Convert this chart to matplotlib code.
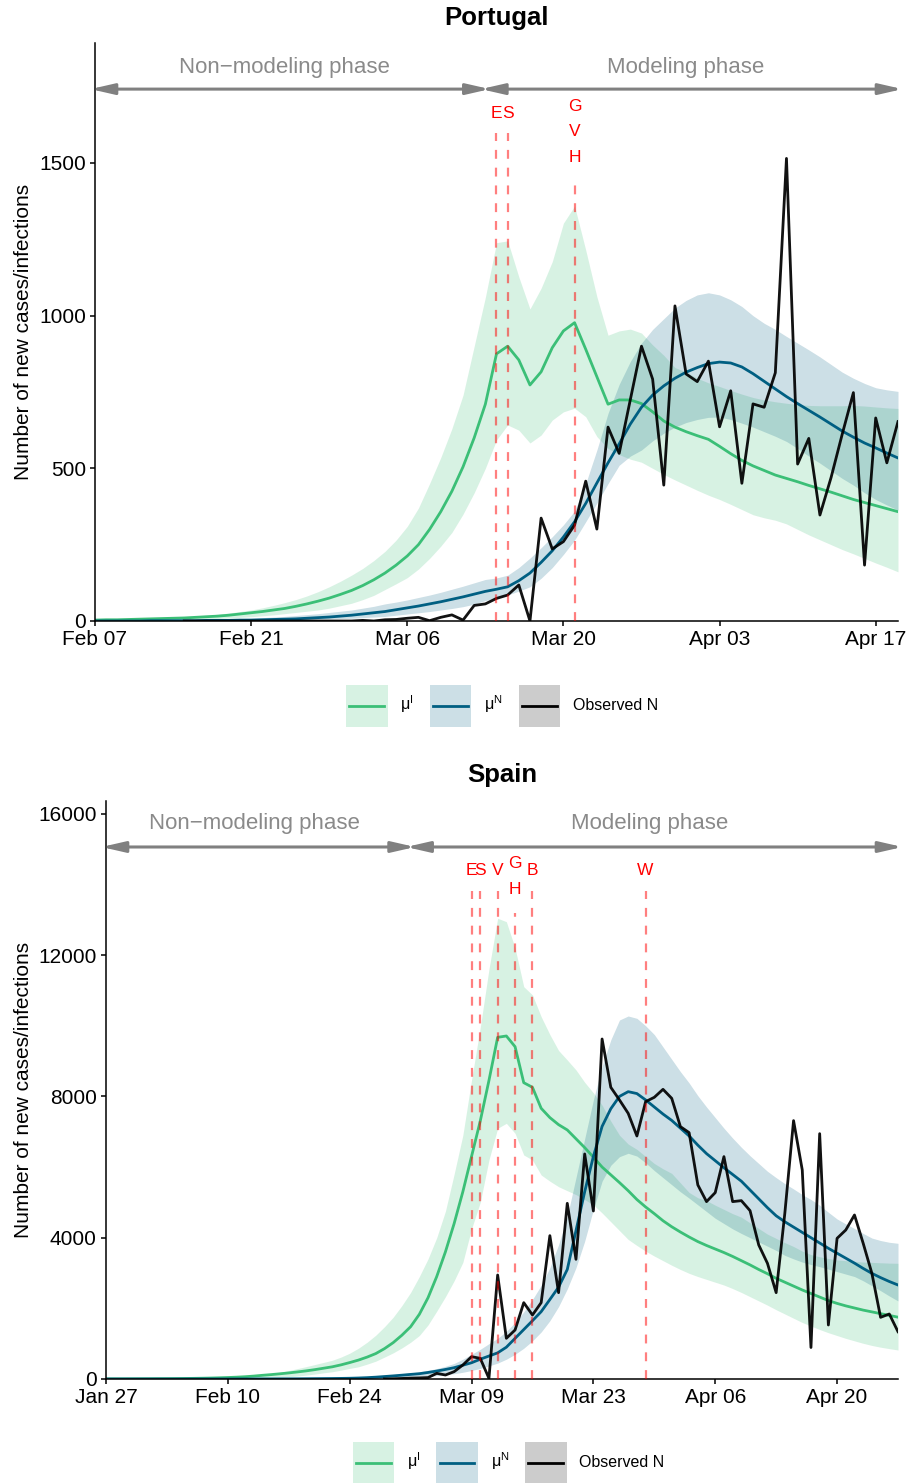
import numpy as np
import pandas as pd
import matplotlib
matplotlib.use("Agg")
import matplotlib.pyplot as plt
import matplotlib.dates as mdates
from matplotlib.patches import Rectangle
from matplotlib.lines import Line2D
from matplotlib.legend_handler import HandlerBase

plt.rcParams['font.family'] = ['Liberation Sans', 'DejaVu Sans']
plt.rcParams['mathtext.fontset'] = 'custom'
plt.rcParams['mathtext.rm'] = 'Liberation Sans'

nan = np.nan

# ---------------- Portugal ----------------
pt_start = '2020-02-07'
pt_mu_i = [3, 4, 4, 5, 6, 7, 8, 9, 10, 12, 14, 16, 19, 23, 27, 31, 36, 41, 48, 56,
           65, 75, 87, 100, 116, 135, 157, 183, 213, 250, 300, 358, 425, 505, 600, 710,
           875, 900, 855, 773, 816, 895, 950, 977, 890, 800, 710, 724, 724, 712, 685,
           655, 635, 620, 607, 595, 572, 548, 526, 508, 493, 478, 467, 456, 444, 433,
           422, 410, 398, 388, 378, 368, 358]
pt_mu_i_hi = [4, 5, 6, 7, 8, 9, 11, 12, 14, 16, 19, 22, 26, 31, 36, 43, 51, 60, 70, 82,
              96, 112, 130, 150, 172, 198, 228, 265, 310, 370, 450, 535, 630, 740, 900,
              1060, 1239, 1245, 1127, 1022, 1090, 1177, 1303, 1359, 1215, 1062, 936, 950,
              956, 943, 904, 870, 830, 815, 795, 780, 768, 755, 743, 732, 724, 718, 713,
              709, 706, 705, 705, 705, 706, 704, 701, 698, 696]
pt_mu_i_lo = [1, 1, 2, 2, 3, 3, 4, 4, 5, 6, 7, 8, 10, 12, 14, 17, 20, 24, 28, 32, 36,
              42, 50, 58, 70, 84, 103, 122, 142, 170, 205, 245, 290, 350, 420, 500, 593,
              642, 625, 583, 609, 658, 685, 697, 669, 604, 565, 545, 530, 520, 500, 480,
              462, 445, 428, 412, 398, 382, 365, 348, 338, 330, 318, 300, 282, 266, 250,
              234, 220, 205, 190, 176, 161]
pt_mu_n = [0, 0, 0, 0, 0, 1, 1, 1, 1, 1, 2, 2, 2, 3, 3, 4, 5, 6, 7, 9, 11, 13, 16, 19,
           23, 27, 31, 37, 43, 49, 56, 63, 71, 79, 88, 97, 104, 112, 132, 157, 192, 230,
           275, 325, 385, 452, 518, 580, 645, 700, 740, 770, 795, 815, 830, 843, 848,
           845, 832, 810, 785, 760, 735, 712, 690, 668, 645, 622, 602, 583, 567, 550, 534]
pt_mu_n_hi = [0, 1, 1, 1, 2, 2, 2, 3, 3, 4, 5, 6, 7, 8, 9, 11, 13, 15, 18, 21, 24, 28,
              32, 36, 42, 48, 56, 62, 69, 77, 85, 94, 104, 114, 125, 136, 141, 150, 175,
              206, 240, 276, 315, 360, 450, 560, 680, 775, 850, 910, 955, 990, 1025, 1050,
              1068, 1075, 1068, 1052, 1030, 1000, 975, 955, 932, 910, 888, 865, 840, 815,
              795, 778, 764, 757, 752]
pt_mu_n_lo = [0, 0, 0, 0, 0, 0, 0, 1, 1, 1, 1, 1, 1, 2, 2, 3, 3, 4, 5, 5, 6, 7, 8, 9,
              11, 13, 15, 19, 23, 27, 31, 36, 41, 47, 55, 67, 75, 85, 98, 112, 140, 175,
              218, 265, 325, 386, 450, 510, 540, 560, 590, 615, 635, 650, 660, 667, 668,
              660, 648, 635, 620, 605, 588, 565, 540, 517, 492, 467, 445, 420, 398, 380, 363]
pt_obs = [nan, nan, nan, nan, nan, nan, nan, nan, 0, 0, 0, 0, 0, 0, 0, 0, 0, 0, 0, 0,
          0, 0, 0, 0, 2, 0, 4, 5, 9, 12, 1, 12, 20, 3, 51, 56, 74, 85, 118, 0, 337, 236,
          260, 314, 458, 301, 635, 549, 725, 900, 792, 445, 1032, 809, 784, 851, 636,
          754, 451, 711, 700, 813, 1515, 514, 598, 347, 470, 612, 748, 183, 665, 518, 653]
pt_event_dates = ['2020-03-14', '2020-03-15', '2020-03-21']
pt_event_labels = [['E'], ['S'], ['G', 'V', 'H']]
pt_split = '2020-03-13'

# ---------------- Spain ----------------
sp_start = '2020-01-27'
sp_mu_i = [3, 4, 4, 5, 6, 7, 9, 10, 12, 15, 18, 22, 27, 34, 42, 52, 65, 83, 105, 125,
           148, 172, 200, 230, 265, 305, 345, 400, 465, 535, 620, 720, 860, 1030, 1240,
           1480, 1830, 2300, 2900, 3600, 4400, 5300, 6300, 7300, 8450, 9672, 9710, 9408,
           8388, 8257, 7663, 7400, 7200, 7050, 6800, 6550, 6280, 6000, 5780, 5560, 5330,
           5080, 4870, 4680, 4480, 4310, 4160, 4020, 3890, 3780, 3680, 3580, 3470, 3350,
           3230, 3100, 2980, 2850, 2740, 2630, 2520, 2420, 2320, 2220, 2140, 2070, 2010,
           1950, 1900, 1850, 1800, 1750]
sp_mu_i_hi = [5, 6, 7, 8, 9, 11, 13, 15, 18, 21, 25, 30, 36, 44, 54, 66, 80, 98, 120,
              150, 190, 240, 295, 350, 410, 470, 530, 620, 730, 870, 1040, 1240, 1480,
              1750, 2080, 2450, 2900, 3400, 4000, 4750, 5800, 6900, 8464, 9950, 11600,
              13042, 12946, 12200, 11106, 10871, 10257, 9750, 9300, 9030, 8750, 8400, 8100,
              7750, 7300, 6900, 6650, 6500, 6300, 6100, 5950, 5820, 5550, 5280, 5130, 5050,
              4920, 4800, 4680, 4580, 4420, 4260, 4100, 3980, 3860, 3750, 3620, 3520, 3460,
              3410, 3370, 3350, 3330, 3310, 3300, 3290, 3280, 3275]
sp_mu_i_lo = [1, 1, 1, 1, 1, 2, 2, 2, 3, 3, 4, 5, 6, 7, 9, 11, 14, 18, 24, 32, 44, 60,
              85, 110, 140, 175, 205, 250, 300, 345, 420, 505, 620, 740, 880, 1040, 1230,
              1530, 1920, 2330, 2780, 3300, 4250, 5000, 6200, 7097, 7238, 6955, 6341, 6200,
              5775, 5600, 5444, 5330, 5220, 5080, 4930, 4700, 4450, 4200, 3950, 3780, 3620,
              3480, 3350, 3220, 3100, 2991, 2900, 2820, 2740, 2660, 2560, 2450, 2330, 2210,
              2090, 1960, 1840, 1720, 1600, 1500, 1400, 1310, 1230, 1150, 1080, 1010, 950,
              900, 860, 821]
sp_mu_n = [0, 0, 0, 0, 0, 0, 0, 0, 0, 0, 1, 1, 1, 1, 1, 2, 2, 2, 3, 3, 4, 5, 6, 8, 10,
           12, 14, 17, 21, 28, 38, 52, 70, 88, 108, 130, 150, 185, 225, 270, 320, 390,
           460, 560, 650, 740, 900, 1150, 1400, 1650, 1906, 2250, 2600, 3100, 4200, 5300,
           6300, 7150, 7650, 8000, 8134, 8080, 7900, 7700, 7500, 7320, 7100, 6880, 6620,
           6380, 6180, 5980, 5790, 5600, 5350, 5100, 4850, 4620, 4450, 4300, 4150, 4000,
           3850, 3700, 3560, 3420, 3280, 3130, 2990, 2870, 2760, 2661]
sp_mu_n_hi = [0, 0, 0, 0, 1, 1, 1, 1, 1, 2, 2, 2, 3, 3, 4, 5, 6, 7, 8, 10, 12, 14, 17,
              20, 24, 28, 34, 40, 48, 58, 70, 85, 102, 122, 145, 172, 205, 245, 295, 360,
              440, 560, 700, 840, 1000, 1150, 1350, 1600, 1900, 2250, 2650, 3150, 3800,
              4600, 5700, 6800, 7900, 8850, 9600, 10163, 10276, 10210, 10000, 9750, 9400,
              9050, 8700, 8380, 8020, 7700, 7400, 7100, 6820, 6560, 6320, 6100, 5880, 5700,
              5530, 5380, 5220, 5080, 4920, 4720, 4530, 4390, 4260, 4120, 3990, 3920, 3870,
              3841]
sp_mu_n_lo = [0, 0, 0, 0, 0, 0, 0, 0, 0, 0, 0, 0, 0, 0, 0, 0, 1, 1, 1, 1, 1, 2, 3, 3,
              4, 5, 6, 7, 9, 11, 14, 18, 23, 30, 38, 48, 60, 75, 95, 120, 150, 190, 240,
              300, 370, 450, 560, 700, 870, 1080, 1330, 1650, 2050, 2550, 3150, 3900, 4800,
              5600, 6050, 6294, 6390, 6310, 6120, 5900, 5700, 5500, 5300, 5120, 4930, 4740,
              4550, 4400, 4250, 4120, 4000, 3880, 3760, 3640, 3500, 3400, 3310, 3240, 3180,
              3110, 3040, 2970, 2900, 2780, 2640, 2500, 2350, 2210]
sp_obs = [nan] * 32 + [2, 6, 15, 25, 30, 40, 160, 113, 208, 396, 632, 585, 19, 2944,
                       1152, 1387, 2161, 1812, 2161, 4058, 2444, 4973, 3388, 6370, 4756,
                       9625, 8257, 7898, 7520, 6879, 7851, 7974, 8200, 7945, 7144, 6974,
                       5494, 5021, 5276, 6295, 5021, 5049, 4766, 3793, 3275, 2444, 4700,
                       7314, 5917, 892, 6945, 1529, 3982, 4218, 4643, 3841, 2991, 1746,
                       1840, 1339]
sp_event_dates = ['2020-03-09', '2020-03-10', '2020-03-12', '2020-03-14', '2020-03-16',
                  '2020-03-29']
sp_event_labels = [['E'], ['S'], ['V'], ['G', 'H'], ['B'], ['W']]
sp_split = '2020-03-02'

GREEN = '#3BBF77'
BLUE = '#005F82'
GREY = '#808080'


class KeyHandler(HandlerBase):
    """Legend key: translucent square with the line centred across it."""
    def create_artists(self, legend, orig_handle, xdescent, ydescent, width, height,
                       fontsize, trans):
        c = orig_handle.get_color()
        rect = Rectangle((-xdescent, -ydescent), width, height, facecolor=c,
                         alpha=0.2, lw=0, transform=trans)
        yc = -ydescent + height / 2
        line = Line2D([-xdescent + 0.08 * width, -xdescent + 0.92 * width], [yc, yc],
                      color=c, lw=2, transform=trans)
        return [rect, line]


fig = plt.figure(figsize=(9.09, 14.83), dpi=100)
W, H = 909, 1483


def panel(rect_px, title, title_xy, start, mu_i, mu_i_lo, mu_i_hi, mu_n, mu_n_lo,
          mu_n_hi, obs, ev_dates, ev_labels, split, ymax, arrow_y, text_y, yticks,
          label_x_px, legend_xy):
    left, top, right, bottom = rect_px
    ax = fig.add_axes([left / W, 1 - bottom / H, (right - left) / W, (bottom - top) / H])
    dates = pd.date_range(start, periods=len(obs))
    upp = ymax / (bottom - top)                          # data units per pixel
    day_px = (right - left) / (len(obs) - 1)             # pixels per day

    ax.fill_between(dates, mu_i_lo, mu_i_hi, color=GREEN, alpha=0.2, lw=0)
    ax.fill_between(dates, mu_n_lo, mu_n_hi, color=BLUE, alpha=0.2, lw=0)
    ax.plot(dates, mu_i, color=GREEN, lw=2.0)
    ax.plot(dates, mu_n, color=BLUE, lw=2.0)
    ax.plot(dates, obs, color='black', lw=2.0, alpha=0.93)

    # intervention markers
    for d, letters in zip(ev_dates, ev_labels):
        d = pd.Timestamp(d)
        n = len(letters)
        top_line = arrow_y - (44 + 22 * (n - 1)) * upp
        ax.plot([d, d], [0, top_line], color='red', alpha=0.5, lw=1.6,
                ls=(0, (4, 4)), zorder=4)
        for k, letter in enumerate(letters):
            off = 24 if n == 1 else 17 + 25.5 * k
            ax.text(d, arrow_y - off * upp, letter, color='red', fontsize=12.5,
                    ha='center', va='center', zorder=5)

    # phase arrows (tips pushed out a few px to sit on the phase boundaries)
    d0, d1, ds = dates[0], dates[-1], pd.Timestamp(split)
    ext = pd.Timedelta(days=4.5 / day_px)
    half = pd.Timedelta(days=0.5)
    for a, b, lab in [(d0, ds, 'Non\u2212modeling phase'), (ds, d1, 'Modeling phase')]:
        ax.annotate('', xy=(b + ext, arrow_y), xytext=(a - ext, arrow_y),
                    arrowprops=dict(arrowstyle='<|-|>,head_length=0.7,head_width=0.16',
                                    color=GREY, lw=2.2, shrinkA=0, shrinkB=0,
                                    mutation_scale=20), annotation_clip=False)
        ax.text(a + (b - a) / 2 - half, text_y, lab, color='#8a8a8a', fontsize=16,
                ha='center', va='center')

    ax.set_xlim(d0, d1)
    ax.set_ylim(0, ymax)
    ax.set_yticks(yticks)
    ax.set_xticks(pd.date_range(start, d1, freq='14D'))
    ax.xaxis.set_major_formatter(mdates.DateFormatter('%b %d'))
    for s in ['top', 'right']:
        ax.spines[s].set_visible(False)
    for s in ['left', 'bottom']:
        ax.spines[s].set_linewidth(1.1)
    ax.tick_params(labelsize=15, length=3.6, width=1.1, pad=3)
    ax.set_ylabel('Number of new cases/infections', fontsize=15)
    ax.yaxis.set_label_coords((label_x_px - left) / (right - left), 0.5)

    fig.text(title_xy[0] / W, 1 - title_xy[1] / H, title, ha='center', va='center',
             fontsize=18.5, fontweight='bold')

    handles = [Line2D([], [], color=GREEN), Line2D([], [], color=BLUE),
               Line2D([], [], color='black')]
    labels = ['\u03bc$^{\\mathrm{I}}$', '\u03bc$^{\\mathrm{N}}$', 'Observed N']
    fig.legend(handles, labels, loc='center', ncol=3, frameon=False, fontsize=11.5,
               bbox_to_anchor=(legend_xy[0] / W, 1 - legend_xy[1] / H),
               handler_map={Line2D: KeyHandler()},
               handlelength=2.6, handleheight=3.65, handletextpad=0.8,
               columnspacing=1.0, borderpad=0)
    return ax


panel((95, 43, 898, 621), 'Portugal', (496.5, 18), pt_start, pt_mu_i, pt_mu_i_lo,
      pt_mu_i_hi, pt_mu_n, pt_mu_n_lo, pt_mu_n_hi, pt_obs, pt_event_dates,
      pt_event_labels, pt_split, 1893, 1742, 1814, [0, 500, 1000, 1500], 33,
      (502, 706))
panel((106, 801, 898, 1379), 'Spain', (502, 775), sp_start, sp_mu_i, sp_mu_i_lo,
      sp_mu_i_hi, sp_mu_n, sp_mu_n_lo, sp_mu_n_hi, sp_obs, sp_event_dates,
      sp_event_labels, sp_split, 16362, 15060, 15711, [0, 4000, 8000, 12000, 16000], 33,
      (508.5, 1463))

fig.savefig('out.png', dpi=100)
